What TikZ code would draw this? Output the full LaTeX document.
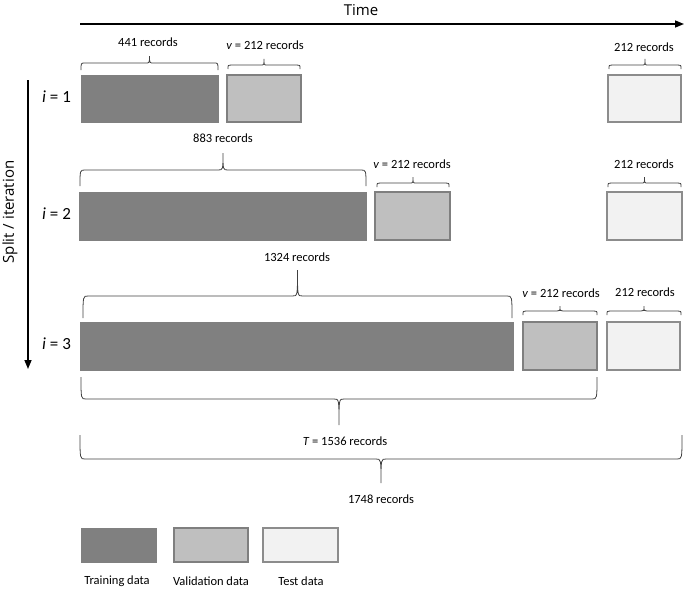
\documentclass[tikz,border=0pt]{standalone}
\usepackage{fontspec}
\setmainfont{Carlito}
\newfontfamily\osans{Open Sans}
\usetikzlibrary{arrows.meta}
\definecolor{trainc}{HTML}{808080}
\definecolor{valc}{HTML}{BFBFBF}
\definecolor{testc}{HTML}{F2F2F2}
\definecolor{edgec}{HTML}{7F7F7F}
\definecolor{bracec}{HTML}{404040}
\newcommand{\dbrace}[6]{%
  \pgfmathsetmacro\bxm{(#1+#2)/2}%
  \draw[bracestyle] (#1,{#3+(#4)}) .. controls (#1,#3) and (#1,#3) .. ({#1+#6},#3)
    -- ({\bxm-#6},#3) .. controls (\bxm,#3) and (\bxm,#3) .. (\bxm,{#3-(#5)})
    .. controls (\bxm,#3) and (\bxm,#3) .. ({\bxm+#6},#3)
    -- ({#2-#6},#3) .. controls (#2,#3) and (#2,#3) .. (#2,{#3+(#4)});%
}
\tikzset{
  box/.style={anchor=north west, inner sep=0pt, outer sep=0pt},
  trainbox/.style={box, fill=trainc, draw=trainc, line width=0.6pt},
  valbox/.style={box, fill=valc, draw=edgec, line width=1.3pt},
  testbox/.style={box, fill=testc, draw=edgec!90, line width=1.3pt},
  lbl/.style={font=\fontsize{12.5}{14}\selectfont, text=black, inner sep=0pt},
  ilbl/.style={font=\fontsize{17}{19}\selectfont, anchor=west, inner sep=0pt},
  bigt/.style={font=\osans\fontsize{15}{17}\selectfont, inner sep=0pt},
  bracestyle/.style={draw=bracec, line width=0.8pt},
  axis/.style={line width=1.5pt, -{Triangle[length=9pt,width=7pt]}},
}
\begin{document}
\begin{tikzpicture}[x=1pt,y=-1pt]
\useasboundingbox (0,0) rectangle (685,590);

% time axis
\node[bigt] (time) at (361,10) {Time};
\coordinate (ts) at (80,24);
\coordinate (te) at (684,24);
\draw[axis] (ts) -- (te);

% split axis
\node[bigt, rotate=90] (split) at (10,212) {Split / iteration};
\coordinate (ss) at (28,80);
\coordinate (se) at (28,369);
\draw[axis] (ss) -- (se);

% row 1
\node[trainbox, minimum width=137pt, minimum height=47pt] (t1) at (81,75) {};
\node[valbox, minimum width=74pt, minimum height=47pt] (v1) at (227,75) {};
\node[testbox, minimum width=73pt, minimum height=47pt] (s1) at (608,75) {};
\node[ilbl] (i1) at (42,97) {\textit{i} = 1};
\dbrace{81}{218}{63}{7}{7}{4}
\dbrace{228}{300}{65}{4}{6}{3}
\dbrace{609}{681}{65}{4}{6}{3}
\node[lbl] (l1a) at (148,42) {441 records};
\node[lbl] (l1b) at (265,45) {\textit{v} = 212 records};
\node[lbl] (l1c) at (644,47) {212 records};

% row 2
\node[trainbox, minimum width=287pt, minimum height=48pt] (t2) at (79,192) {};
\node[valbox, minimum width=75pt, minimum height=48pt] (v2) at (375,192) {};
\node[testbox, minimum width=75pt, minimum height=48pt] (s2) at (607,192) {};
\node[ilbl] (i2) at (42,214) {\textit{i} = 2};
\dbrace{80}{366}{170}{16}{17}{5}
\dbrace{377}{449}{183}{4}{6}{3}
\dbrace{608}{681}{183}{4}{6}{3}
\node[lbl] (l2a) at (223,138) {883 records};
\node[lbl] (l2b) at (412,164) {\textit{v} = 212 records};
\node[lbl] (l2c) at (644,164) {212 records};

% row 3
\node[trainbox, minimum width=433pt, minimum height=48pt] (t3) at (80,322) {};
\node[valbox, minimum width=74pt, minimum height=48pt] (v3) at (523,322) {};
\node[testbox, minimum width=73pt, minimum height=48pt] (s3) at (607,322) {};
\node[ilbl] (i3) at (42,344) {\textit{i} = 3};
\dbrace{83}{512}{296}{22}{26}{5}
\dbrace{523}{597}{311}{4}{5}{3}
\dbrace{607}{681}{311}{4}{5}{3}
\node[lbl] (l3a) at (297,257) {1324 records};
\node[lbl] (l3b) at (561,293) {\textit{v} = 212 records};
\node[lbl] (l3c) at (645,292) {212 records};

% bottom braces
\dbrace{81}{597}{399}{-22}{-26}{5}
\node[lbl] (lT) at (345,441) {\textit{T} = 1536 records};
\dbrace{80}{682}{459}{-24}{-24}{5}
\node[lbl] (lall) at (381,499) {1748 records};

% legend
\node[trainbox, minimum width=75pt, minimum height=34pt] (lgt) at (81,528) {};
\node[valbox, minimum width=74pt, minimum height=34pt] (lgv) at (174,528) {};
\node[testbox, minimum width=75pt, minimum height=34pt] (lgs) at (263,528) {};
\node[lbl] (lgtl) at (117,581) {Training data};
\node[lbl] (lgvl) at (211,581) {Validation data};
\node[lbl] (lgsl) at (301,581) {Test data};
\end{tikzpicture}
\end{document}
